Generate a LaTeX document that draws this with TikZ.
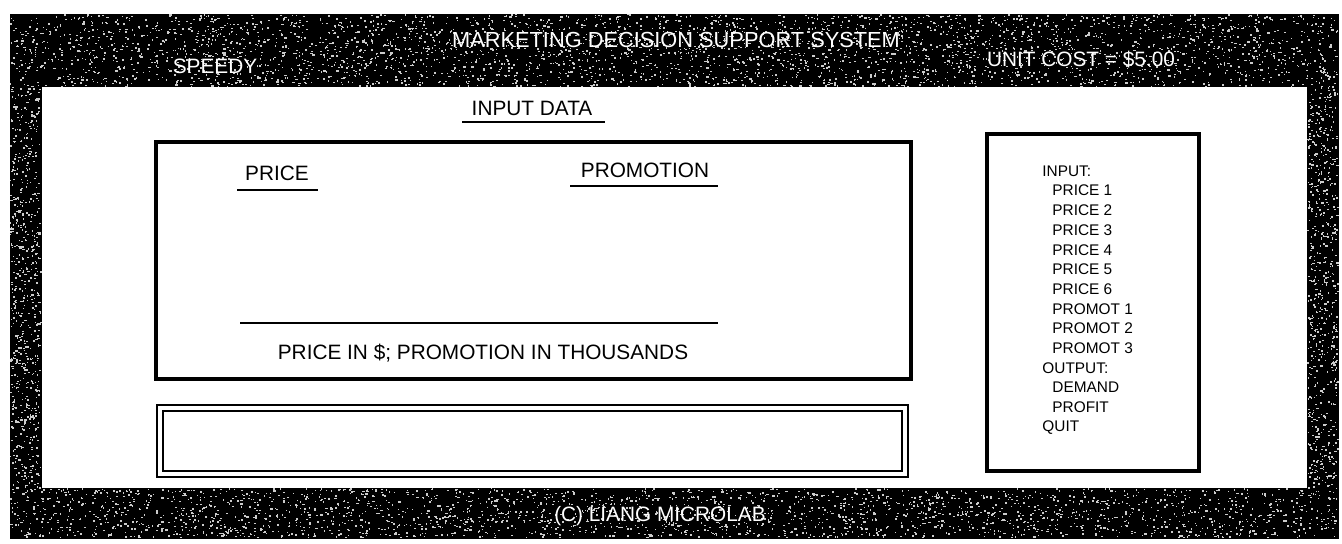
\documentclass[tikz,border=0pt]{standalone}
\usepackage{fontspec}
\setmainfont{Liberation Sans}
\begin{document}
\begin{tikzpicture}[x=0.5pt,y=-0.5pt,
  bandtxt/.style={text=white,font=\fontsize{10.4}{12}\selectfont,inner sep=0pt,anchor=center},
  bodytxt/.style={text=black,font=\fontsize{10.4}{12}\selectfont,inner sep=0pt,anchor=center},
  menutxt/.style={text=black,font=\fontsize{7.7}{9}\selectfont,inner sep=0pt,anchor=west},
  heavybox/.style={draw=black,line width=2pt},
  uline/.style={draw=black,line width=1pt},
  speck/.style={fill=white!80!black}]
\useasboundingbox (0,0) rectangle (1342,544);
\fill[white] (0,0) rectangle (1342,544);
% dark textured frame
\fill[black] (10,14) rectangle (1339,539);
\pgfmathsetseed{7}
\foreach \i in {1,...,3600}{
  \pgfmathsetmacro\xx{10+1327*rnd}\pgfmathsetmacro\yy{14+72*rnd}
  \pgfmathsetmacro\ww{0.8+1.6*rnd}
  \fill[speck] (\xx,\yy) rectangle ++(\ww,1.4);}
\foreach \i in {1,...,2500}{
  \pgfmathsetmacro\xx{10+1327*rnd}\pgfmathsetmacro\yy{488+49*rnd}
  \pgfmathsetmacro\ww{0.8+1.6*rnd}
  \fill[speck] (\xx,\yy) rectangle ++(\ww,1.4);}
\foreach \i in {1,...,650}{
  \pgfmathsetmacro\xx{10+30*rnd}\pgfmathsetmacro\yy{86+402*rnd}
  \pgfmathsetmacro\ww{0.8+1.6*rnd}
  \fill[speck] (\xx,\yy) rectangle ++(\ww,1.4);}
\foreach \i in {1,...,650}{
  \pgfmathsetmacro\xx{1307+30*rnd}\pgfmathsetmacro\yy{86+402*rnd}
  \pgfmathsetmacro\ww{0.8+1.6*rnd}
  \fill[speck] (\xx,\yy) rectangle ++(\ww,1.4);}
\fill[white] (42,87) rectangle (1307,488);
% band texts
\node[bandtxt,font=\fontsize{10.9}{12}\selectfont] (title) at (676,40) {MARKETING DECISION SUPPORT SYSTEM};
\node[bandtxt] (speedy) at (215,66) {SPEEDY};
\node[bandtxt] (cost) at (1081,60) {UNIT COST = \$5.00};
\node[bandtxt] (lab) at (660,516) {(C) LIANG MICROLAB};
% input data heading
\node[bodytxt] (indata) at (532,108) {INPUT DATA};
\draw[uline] (462,122) -- (605,122);
% input box
\draw[heavybox] (156,142) rectangle (911,379);
\node[bodytxt] (price) at (277,173) {PRICE};
\draw[uline] (237,190) -- (318,190);
\node[bodytxt] (promo) at (645,170) {PROMOTION};
\draw[uline] (570,186) -- (718,186);
\draw[uline] (240,323) -- (718,323);
\node[bodytxt] (units) at (483,353) {PRICE IN \$; PROMOTION IN THOUSANDS};
% message box (double border)
\draw[black,line width=0.8pt] (157,405) rectangle (908,477);
\draw[black,line width=0.8pt] (163,411) rectangle (902,471);
% menu box
\draw[heavybox] (987,134) rectangle (1199,471);
\node[menutxt] (m0) at (1042,171) {INPUT:};
\node[menutxt] (m1) at (1052,190.7) {PRICE 1};
\node[menutxt] (m2) at (1052,210.4) {PRICE 2};
\node[menutxt] (m3) at (1052,230.1) {PRICE 3};
\node[menutxt] (m4) at (1052,249.8) {PRICE 4};
\node[menutxt] (m5) at (1052,269.5) {PRICE 5};
\node[menutxt] (m6) at (1052,289.2) {PRICE 6};
\node[menutxt] (m7) at (1052,308.9) {PROMOT 1};
\node[menutxt] (m8) at (1052,328.6) {PROMOT 2};
\node[menutxt] (m9) at (1052,348.3) {PROMOT 3};
\node[menutxt] (m10) at (1042,368) {OUTPUT:};
\node[menutxt] (m11) at (1052,387.7) {DEMAND};
\node[menutxt] (m12) at (1052,407.4) {PROFIT};
\node[menutxt] (m13) at (1042,427.1) {QUIT};
\end{tikzpicture}
\end{document}
